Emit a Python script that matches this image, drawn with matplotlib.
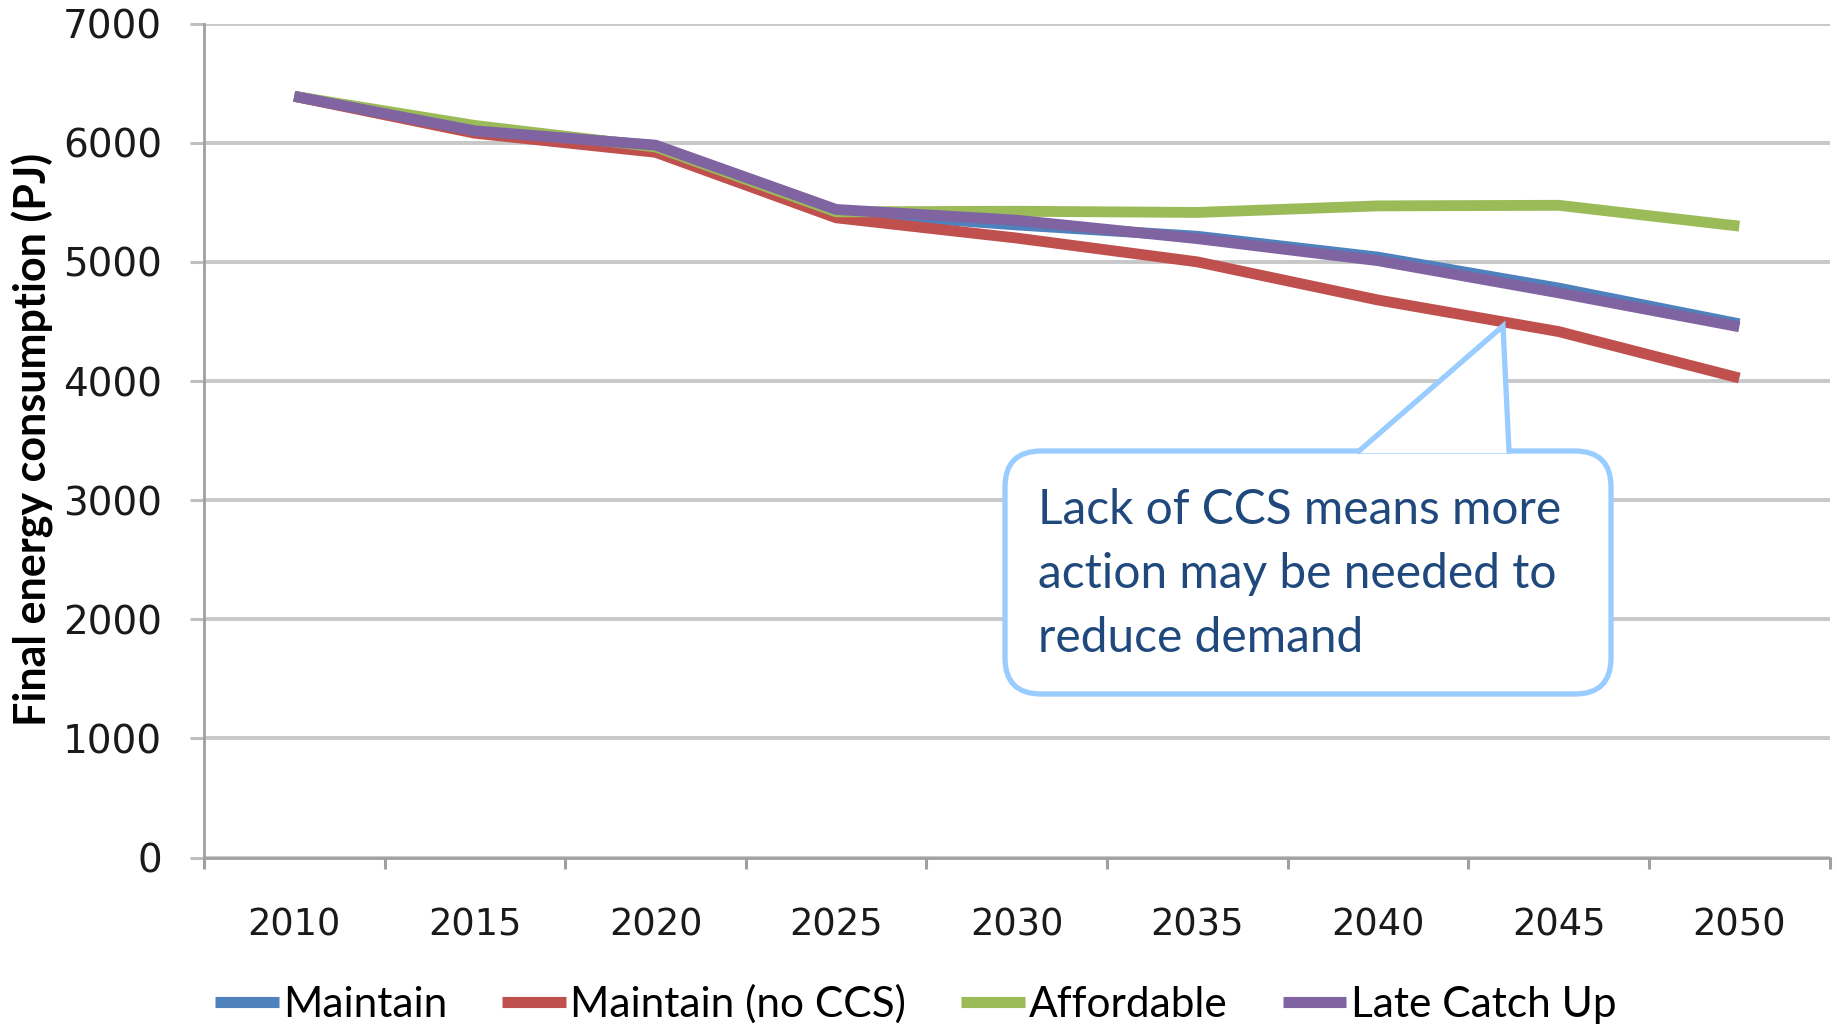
import matplotlib.pyplot as plt
import matplotlib.transforms as mtransforms
from matplotlib.patches import FancyBboxPatch, Polygon
from matplotlib.lines import Line2D

# Values (PJ)
years = ['2010', '2015', '2020', '2025', '2030', '2035', '2040', '2045', '2050']
maintain = [6390, 6110, 5975, 5420, 5310, 5215, 5040, 4780, 4480]
maintain_no_ccs = [6390, 6080, 5920, 5370, 5200, 5000, 4680, 4415, 4025]
affordable = [6390, 6145, 5965, 5420, 5425, 5415, 5470, 5475, 5300]
late_catch_up = [6390, 6100, 5980, 5440, 5350, 5195, 5010, 4740, 4455]

series_names = ['Maintain', 'Maintain (no CCS)', 'Affordable', 'Late Catch Up']
series_colors = ['#4F81BD', '#C0504D', '#9BBB59', '#8064A2']

fig = plt.figure(figsize=(18.37, 10.27), dpi=100)
ax = fig.add_axes([0.111, 0.165, 0.885, 0.812])

x = list(range(len(years)))
for vals, name, col in zip([maintain, maintain_no_ccs, affordable, late_catch_up],
                           series_names, series_colors):
    ax.plot(x, vals, color=col, lw=7.8, label=name,
            solid_joinstyle='round', solid_capstyle='butt')

ax.set_xlim(-0.5, len(years) - 0.5)
ax.set_ylim(0, 7000)
ax.set_yticks(range(0, 7001, 1000))
ax.set_xticks(x)
ax.set_xticklabels(years)
ax.set_xticks([i - 0.5 for i in range(len(years) + 1)], minor=True)

ax.grid(axis='y', color='#C8C8C8', lw=2.8)
ax.set_axisbelow(True)
for s in ['top', 'right']:
    ax.spines[s].set_visible(False)
for s in ['left', 'bottom']:
    ax.spines[s].set_color('#A0A0A0')
    ax.spines[s].set_linewidth(2.0)

ax.tick_params(axis='y', length=10, width=2.2, color='#BFBFBF', pad=20,
               labelsize=28, labelcolor='#1a1a1a')
ax.tick_params(axis='x', which='major', length=0, pad=35,
               labelsize=26.5, labelcolor='#1a1a1a')
ax.tick_params(axis='x', which='minor', length=8, width=2.2, color='#A0A0A0')

fig.text(0.018, 0.572, 'Final energy consumption (PJ)', rotation=90,
         ha='center', va='center', fontsize=31, fontweight='bold',
         family='Lato', color='black')

fig.legend(loc='center', bbox_to_anchor=(0.4985, 0.022), ncol=4, frameon=False,
           prop={'family': 'Lato', 'size': 30.5}, handlelength=1.5,
           handletextpad=0.1, columnspacing=1.3, borderaxespad=0)
for line in fig.legends[0].get_lines():
    line.set_linewidth(8)

# Callout, drawn in full-size pixel coordinates (origin top-left)
px = mtransforms.Affine2D().scale(0.01, -0.01).translate(0, 10.27) + fig.dpi_scale_trans
edge = '#99CCFF'
box = FancyBboxPatch((1005, 451), 606, 243, boxstyle='round,pad=0,rounding_size=36',
                     transform=px, facecolor='white', edgecolor=edge, lw=3.8,
                     zorder=5, clip_on=False)
fig.add_artist(box)
wedge = Polygon([(1359, 453), (1503, 326), (1509, 453)], closed=True,
                transform=px, facecolor='white', edgecolor='none', zorder=6)
fig.add_artist(wedge)
fig.add_artist(Line2D([1359, 1503, 1509], [451, 326, 451], transform=px,
                      color=edge, lw=3.8, zorder=7, solid_joinstyle='miter'))

fig.text(1038 / 1837, 1 - 574 / 1027,
         'Lack of CCS means more\naction may be needed to\nreduce demand',
         ha='left', va='center', fontsize=34.5, family='Lato', color='#1F497D',
         linespacing=1.55, zorder=8)

fig.savefig('out.png', dpi=100)
